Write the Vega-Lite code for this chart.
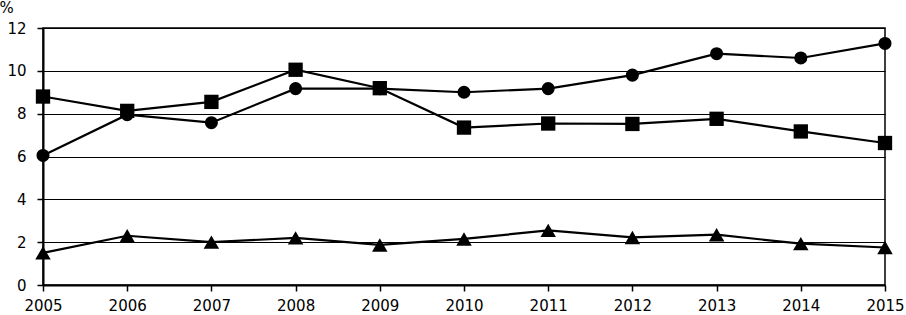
{
  "$schema": "https://vega.github.io/schema/vega-lite/v6.json",
  "width": 842,
  "height": 257,
  "autosize": "none",
  "padding": {"left": 43, "top": 28, "right": 21, "bottom": 30},
  "background": "white",
  "config": {
    "view": {"stroke": "black", "strokeWidth": 1.5},
    "font": "DejaVu Sans",
    "axis": {
      "labelFont": "DejaVu Sans",
      "labelFontSize": 15,
      "labelColor": "black",
      "domainColor": "black",
      "tickColor": "black",
      "gridColor": "black",
      "gridOpacity": 1,
      "gridWidth": 1.2,
      "tickWidth": 1.5,
      "domainWidth": 2
    }
  },
  "data": {
    "values": [
      {"year": 2005, "series": "A", "value": 6.05},
      {"year": 2006, "series": "A", "value": 7.95},
      {"year": 2007, "series": "A", "value": 7.58},
      {"year": 2008, "series": "A", "value": 9.17},
      {"year": 2009, "series": "A", "value": 9.17},
      {"year": 2010, "series": "A", "value": 9.0},
      {"year": 2011, "series": "A", "value": 9.17},
      {"year": 2012, "series": "A", "value": 9.8},
      {"year": 2013, "series": "A", "value": 10.8},
      {"year": 2014, "series": "A", "value": 10.6},
      {"year": 2015, "series": "A", "value": 11.28},
      {"year": 2005, "series": "B", "value": 8.8},
      {"year": 2006, "series": "B", "value": 8.13},
      {"year": 2007, "series": "B", "value": 8.55},
      {"year": 2008, "series": "B", "value": 10.05},
      {"year": 2009, "series": "B", "value": 9.19},
      {"year": 2010, "series": "B", "value": 7.35},
      {"year": 2011, "series": "B", "value": 7.54},
      {"year": 2012, "series": "B", "value": 7.52},
      {"year": 2013, "series": "B", "value": 7.76},
      {"year": 2014, "series": "B", "value": 7.17},
      {"year": 2015, "series": "B", "value": 6.63},
      {"year": 2005, "series": "C", "value": 1.5},
      {"year": 2006, "series": "C", "value": 2.3},
      {"year": 2007, "series": "C", "value": 2.0},
      {"year": 2008, "series": "C", "value": 2.2},
      {"year": 2009, "series": "C", "value": 1.87},
      {"year": 2010, "series": "C", "value": 2.15},
      {"year": 2011, "series": "C", "value": 2.55},
      {"year": 2012, "series": "C", "value": 2.22},
      {"year": 2013, "series": "C", "value": 2.35},
      {"year": 2014, "series": "C", "value": 1.93},
      {"year": 2015, "series": "C", "value": 1.75}
    ]
  },
  "encoding": {
    "x": {
      "field": "year",
      "type": "quantitative",
      "scale": {"domain": [2005, 2015], "nice": false, "zero": false},
      "axis": {
        "values": [2005, 2006, 2007, 2008, 2009, 2010, 2011, 2012, 2013, 2014, 2015],
        "format": "d",
        "grid": false,
        "title": null,
        "tickSize": 6,
        "labelPadding": 7,
        "labelFlush": false,
        "labelOverlap": false
      }
    },
    "y": {
      "field": "value",
      "type": "quantitative",
      "scale": {"domain": [0, 12], "nice": false},
      "axis": {
        "values": [0, 2, 4, 6, 8, 10, 12],
        "grid": true,
        "tickSize": 6,
        "labelPadding": 11,
        "title": "%",
        "titleAngle": 0,
        "titleFont": "DejaVu Sans",
        "titleFontSize": 15,
        "titleFontWeight": "normal",
        "titleColor": "black",
        "titleX": -44,
        "titleY": -16,
        "titleAlign": "left",
        "titleBaseline": "alphabetic"
      }
    }
  },
  "layer": [
    {
      "mark": {"type": "line", "color": "black", "strokeWidth": 2.2},
      "encoding": {"detail": {"field": "series"}}
    },
    {
      "mark": {"type": "point", "filled": true, "color": "black", "opacity": 1},
      "encoding": {
        "shape": {
          "field": "series",
          "scale": {"domain": ["A", "B", "C"], "range": ["circle", "square", "triangle-up"]},
          "legend": null
        },
        "size": {
          "field": "series",
          "scale": {"domain": ["A", "B", "C"], "range": [170, 240, 200]},
          "legend": null
        }
      }
    }
  ]
}
